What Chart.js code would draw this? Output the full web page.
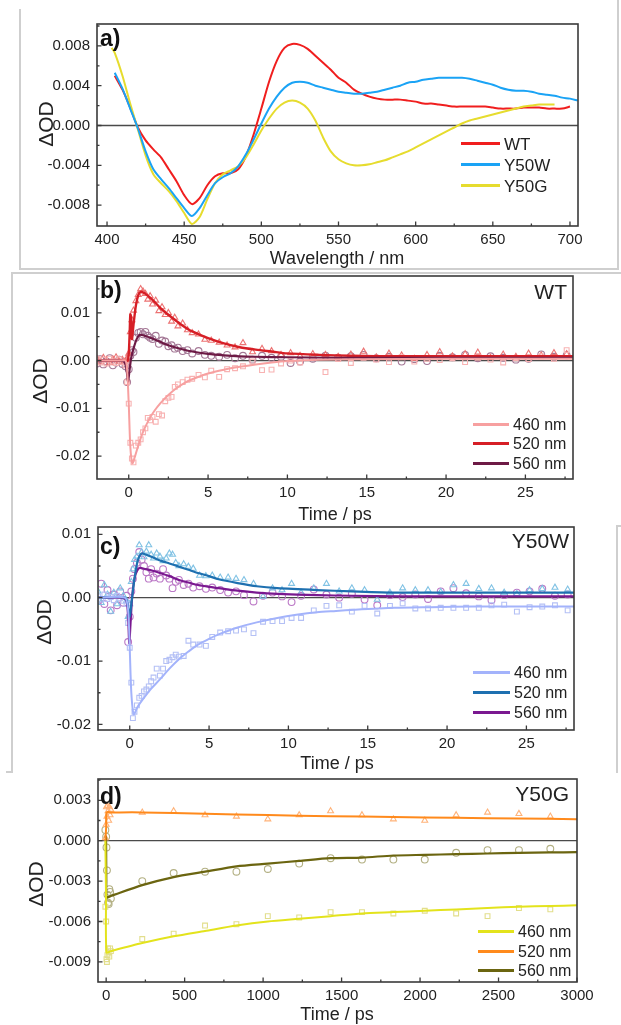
<!DOCTYPE html>
<html><head><meta charset="utf-8">
<script src="https://cdn.jsdelivr.net/npm/chart.js@4.4.1/dist/chart.umd.min.js"></script>
<style>
html,body{margin:0;padding:0;background:#fff;}
body{width:621px;height:1025px;position:relative;overflow:hidden;font-family:"Liberation Sans",Arial,sans-serif;color:#222;}
canvas{position:absolute;left:0;}
.t{position:absolute;white-space:nowrap;line-height:1;z-index:5;}
.c{transform:translate(-50%,-50%);}
.r{transform:translate(-100%,-50%);}
.l{transform:translate(0,-50%);}
.lab{font-weight:bold;font-size:23px;color:#111;}
.name{font-size:21px;}
.leg{font-size:16px;}
.legA{font-size:17px;}
.ax{font-size:18px;}
.od{font-size:21px;transform:translate(-50%,-50%) rotate(-90deg);}
.ln{position:absolute;height:3px;z-index:5;}
.fr{position:absolute;background:#cfcfcf;}
</style></head>
<body>
<canvas id="pa" width="621" height="248" style="top:8px"></canvas>
<canvas id="pb" width="621" height="249" style="top:260px"></canvas>
<canvas id="pc" width="621" height="249" style="top:511px"></canvas>
<canvas id="pd" width="621" height="249" style="top:763px"></canvas>

<!-- frames -->
<div class="fr" style="left:19px;top:9px;width:1.5px;height:261px"></div>
<div class="fr" style="left:19px;top:268px;width:600px;height:1.5px"></div>
<div class="fr" style="left:617px;top:0px;width:1.5px;height:270px"></div>
<div class="fr" style="left:11px;top:272px;width:610px;height:1.5px"></div>
<div class="fr" style="left:11px;top:272px;width:1.5px;height:501px"></div>
<div class="fr" style="left:6px;top:771px;width:6px;height:1.5px"></div>
<div class="fr" style="left:616px;top:525px;width:1.5px;height:248px"></div>
<div class="fr" style="left:616px;top:525px;width:5px;height:1.5px"></div>

<!-- panel a texts -->
<div class="t lab l" style="left:100px;top:38px">a)</div>
<div class="t od" style="left:45px;top:124px">ΔOD</div>
<div class="t ax c" style="left:337px;top:258px">Wavelength / nm</div>
<div class="ln" style="left:461px;top:142px;width:39px;background:#f01e1e"></div>
<div class="t legA l" style="left:504px;top:144px">WT</div>
<div class="ln" style="left:461px;top:163px;width:39px;background:#1aa3f5"></div>
<div class="t legA l" style="left:504px;top:165px">Y50W</div>
<div class="ln" style="left:461px;top:184px;width:39px;background:#e6dc2e"></div>
<div class="t legA l" style="left:504px;top:186px">Y50G</div>

<!-- panel b texts -->
<div class="t lab l" style="left:100px;top:290px">b)</div>
<div class="t name r" style="left:567px;top:291px">WT</div>
<div class="t od" style="left:39px;top:381px">ΔOD</div>
<div class="t ax c" style="left:335px;top:514px">Time / ps</div>
<div class="ln" style="left:473px;top:423px;width:36px;background:#f7a0a0"></div>
<div class="t leg l" style="left:513px;top:425px">460 nm</div>
<div class="ln" style="left:473px;top:442px;width:36px;background:#d61f26"></div>
<div class="t leg l" style="left:513px;top:444px">520 nm</div>
<div class="ln" style="left:473px;top:462px;width:36px;background:#6d1a45"></div>
<div class="t leg l" style="left:513px;top:464px">560 nm</div>

<!-- panel c texts -->
<div class="t lab l" style="left:100px;top:546px">c)</div>
<div class="t name r" style="left:569px;top:540px">Y50W</div>
<div class="t od" style="left:43px;top:622px">ΔOD</div>
<div class="t ax c" style="left:337px;top:763px">Time / ps</div>
<div class="ln" style="left:473px;top:671px;width:37px;background:#a3b3fb"></div>
<div class="t leg l" style="left:514px;top:673px">460 nm</div>
<div class="ln" style="left:473px;top:691px;width:37px;background:#1e70b0"></div>
<div class="t leg l" style="left:514px;top:693px">520 nm</div>
<div class="ln" style="left:473px;top:711px;width:37px;background:#7a1890"></div>
<div class="t leg l" style="left:514px;top:713px">560 nm</div>

<!-- panel d texts -->
<div class="t lab l" style="left:100px;top:796px">d)</div>
<div class="t name r" style="left:569px;top:793px">Y50G</div>
<div class="t od" style="left:35px;top:884px">ΔOD</div>
<div class="t ax c" style="left:337px;top:1014px">Time / ps</div>
<div class="ln" style="left:478px;top:930px;width:36px;background:#e3e31c"></div>
<div class="t leg l" style="left:518px;top:932px">460 nm</div>
<div class="ln" style="left:478px;top:950px;width:36px;background:#ff8a1c"></div>
<div class="t leg l" style="left:518px;top:952px">520 nm</div>
<div class="ln" style="left:478px;top:969px;width:36px;background:#6b6510"></div>
<div class="t leg l" style="left:518px;top:971px">560 nm</div>

<script>
// ---------- Panel a: transient spectra ----------
const wavelengths = [403,405,410,415,420,425,430,435,440,445,450,455,460,465,470,475,480,485,490,495,500,505,510,515,520,525,530,535,540,545,550,555,560,565,570,575,580,585,590,595,600,605,610,615,620,625,630,635,640,645,650,655,660,665,670,675,680,685,690,695,700,705];
const spectrumWT = [null,0.0050,0.0036,0.0018,-0.0002,-0.0015,-0.0024,-0.0032,-0.0044,-0.0056,-0.0070,-0.0079,-0.0073,-0.0060,-0.0051,-0.0048,-0.0048,-0.0044,-0.0031,-0.0009,0.0017,0.0044,0.0065,0.0078,0.0082,0.0081,0.0077,0.0070,0.0063,0.0056,0.0048,0.0043,0.0036,0.0032,0.0029,0.0027,0.0026,0.0026,0.0026,0.0025,0.0024,0.0022,0.0022,0.0021,0.0020,0.0019,0.0019,0.0019,0.0019,0.0019,0.0018,0.0017,0.0017,0.0017,0.0018,0.0018,0.0018,0.0017,0.0017,0.0017,0.0019,null];
const spectrumY50W = [null,0.0053,0.0037,0.0017,-0.0003,-0.0026,-0.0044,-0.0054,-0.0063,-0.0073,-0.0083,-0.0091,-0.0083,-0.0070,-0.0058,-0.0052,-0.0048,-0.0041,-0.0029,-0.0014,0.0002,0.0017,0.0029,0.0038,0.0043,0.0044,0.0043,0.0040,0.0038,0.0036,0.0034,0.0033,0.0032,0.0032,0.0033,0.0034,0.0036,0.0038,0.0040,0.0043,0.0044,0.0046,0.0047,0.0048,0.0048,0.0048,0.0048,0.0047,0.0045,0.0043,0.0041,0.0038,0.0036,0.0035,0.0035,0.0034,0.0032,0.0031,0.0030,0.0028,0.0027,0.0025];
const spectrumY50G = [0.0078,0.0073,0.0050,0.0022,-0.0004,-0.0030,-0.0049,-0.0058,-0.0066,-0.0076,-0.0088,-0.0099,-0.0092,-0.0074,-0.0058,-0.0049,-0.0045,-0.0041,-0.0032,-0.0019,-0.0005,0.0007,0.0017,0.0023,0.0025,0.0023,0.0017,0.0005,-0.0012,-0.0026,-0.0034,-0.0038,-0.0040,-0.0040,-0.0039,-0.0037,-0.0035,-0.0032,-0.0029,-0.0026,-0.0022,-0.0018,-0.0014,-0.0010,-0.0006,-0.0002,0.0002,0.0005,0.0007,0.0009,0.0011,0.0013,0.0015,0.0017,0.0019,0.0020,0.0021,0.0021,0.0021,null,null,null];
const wlTicks = [400,450,500,550,600,650,700];
const wlTickLabels = ['400','450','500','550','600','650','700'];
const odTicksA = [-0.008,-0.004,0,0.004,0.008];
const odTickLabelsA = ['-0.008','-0.004','0.000','0.004','0.008'];

// ---------- Panels b & c: delay times (ps) of measured points ----------
const delayTimes = [-2.0,-1.8,-1.6,-1.4,-1.2,-1.0,-0.8,-0.6,-0.4,-0.2,-0.1,0.0,0.1,0.2,0.3,0.45,0.6,0.75,0.9,1.05,1.2,1.35,1.5,1.7,1.9,2.1,2.3,2.5,2.7,2.9,3.1,3.4,3.7,4.0,4.4,4.8,5.2,5.7,6.2,6.7,7.2,7.8,8.4,9.0,9.6,10.2,10.8,11.6,12.4,13.2,14.0,14.8,15.6,16.4,17.2,18.0,18.8,19.6,20.4,21.2,22.0,22.8,23.6,24.4,25.2,26.0,26.8,27.6];

// Panel b (WT) measured
const wt460 = [0.0003,-0.0004,0.0002,-0.0006,0.0004,-0.0002,-0.0005,0.0003,-0.0003,-0.0010,-0.0045,-0.0090,-0.0172,-0.0205,-0.0213,-0.0178,-0.0172,-0.0165,-0.0150,-0.0142,-0.0120,-0.0125,-0.0118,-0.0128,-0.0112,-0.0115,-0.0085,-0.0078,-0.0076,-0.0055,-0.0050,-0.0045,-0.0040,-0.0038,-0.0030,-0.0035,-0.0021,-0.0034,-0.0018,-0.0016,-0.0012,-0.0002,-0.0020,-0.0019,-0.0006,0.0000,-0.0004,0.0008,-0.0024,0.0003,-0.0005,0.0006,0.0002,-0.0003,0.0007,-0.0002,0.0004,0.0001,0.0005,-0.0003,0.0006,0.0002,-0.0004,0.0005,0.0003,0.0009,0.0004,0.0022];
const wt520 = [0.0004,-0.0003,0.0006,0.0001,-0.0005,0.0003,0.0007,-0.0002,0.0002,0.0000,0.0003,0.0015,0.0060,0.0085,0.0105,0.0125,0.0138,0.0150,0.0145,0.0140,0.0128,0.0135,0.0118,0.0126,0.0104,0.0112,0.0096,0.0100,0.0082,0.0090,0.0072,0.0078,0.0064,0.0058,0.0055,0.0044,0.0042,0.0038,0.0032,0.0028,0.0037,0.0018,0.0025,0.0020,0.0012,0.0016,0.0010,0.0014,0.0012,0.0008,0.0013,0.0019,0.0007,0.0015,0.0011,0.0004,0.0012,0.0018,0.0009,0.0014,0.0017,0.0006,0.0013,0.0008,0.0015,0.0011,0.0016,0.0014];
const wt560 = [-0.0006,0.0003,-0.0008,-0.0002,0.0005,-0.0010,-0.0004,0.0002,-0.0007,-0.0012,-0.0045,-0.0018,0.0010,0.0022,0.0018,0.0048,0.0058,0.0060,0.0055,0.0060,0.0052,0.0048,0.0045,0.0052,0.0035,0.0042,0.0040,0.0030,0.0032,0.0025,0.0027,0.0020,0.0022,0.0015,0.0020,0.0012,0.0010,0.0008,0.0012,0.0005,0.0010,0.0002,0.0010,0.0006,0.0008,-0.0005,-0.0002,0.0004,0.0010,0.0006,0.0009,0.0012,0.0005,0.0008,-0.0002,0.0003,-0.0001,0.0010,0.0007,0.0012,0.0005,0.0009,0.0006,0.0002,0.0004,0.0013,0.0008,0.0011];
// Panel b fits
const wt460FitT = [-2,-0.5,-0.2,-0.1,0,0.1,0.23,0.4,0.6,0.8,1.0,1.3,1.6,2.0,2.5,3.0,3.5,4.0,5.0,6.0,7.0,8.0,9.0,10.0,12.0,15.0,20.0,28.0];
const wt460Fit = [0,0,0,-0.002,-0.009,-0.018,-0.0215,-0.0200,-0.0178,-0.0158,-0.0142,-0.0122,-0.0106,-0.0089,-0.0072,-0.0058,-0.0047,-0.0039,-0.0027,-0.0019,-0.0013,-0.0008,-0.0004,-0.0001,0.0002,0.0003,0.0004,0.0004];
const wt520FitT = [-2,-1,-0.3,-0.05,0.05,0.1,0.15,0.2,0.3,0.45,0.6,0.75,1.0,1.5,2.0,2.5,3.0,3.5,4.0,5.0,6.0,7.0,8.0,9.0,10.0,12.0,14.0,17.0,20.0,24.0,28.0];
const wt520Fit = [0,0,0,0,0.0050,0.0097,0.0090,0.0045,0.0075,0.0115,0.0137,0.0144,0.0141,0.0127,0.0110,0.0096,0.0083,0.0071,0.0061,0.0047,0.0036,0.0028,0.0023,0.0019,0.0015,0.0012,0.0010,0.0009,0.0009,0.0009,0.0009];
const wt560FitT = [-2,-0.6,-0.3,-0.15,-0.05,0.05,0.15,0.3,0.5,0.7,1.0,1.5,2.0,2.5,3.0,4.0,5.0,6.0,7.0,8.0,10.0,13.0,16.0,20.0,24.0,28.0];
const wt560Fit = [0,0,-0.0002,-0.0015,-0.0044,-0.0020,0.0005,0.0025,0.0045,0.0054,0.0052,0.0046,0.0039,0.0032,0.0027,0.0019,0.0014,0.0011,0.0009,0.0008,0.0007,0.0006,0.0006,0.0006,0.0006,0.0006];

// Panel c (Y50W) measured
const w460 = [0.0002,-0.0003,0.0005,-0.0002,0.0001,-0.0004,0.0003,-0.0001,-0.0005,-0.0010,-0.0040,-0.0079,-0.0134,-0.0190,-0.0180,-0.0170,-0.0158,-0.0155,-0.0148,-0.0145,-0.0140,-0.0132,-0.0126,-0.0112,-0.0123,-0.0112,-0.0100,-0.0098,-0.0094,-0.0090,-0.0093,-0.0092,-0.0068,-0.0074,-0.0074,-0.0076,-0.0062,-0.0055,-0.0053,-0.0052,-0.0050,-0.0056,-0.0038,-0.0037,-0.0037,-0.0032,-0.0032,-0.0020,-0.0013,-0.0012,-0.0022,-0.0013,-0.0025,-0.0013,-0.0009,-0.0017,-0.0017,-0.0016,-0.0016,-0.0016,-0.0016,-0.0012,-0.0011,-0.0022,-0.0015,-0.0014,-0.0012,-0.0020];
const w520 = [0.0010,-0.0008,0.0020,0.0005,-0.0022,0.0008,-0.0010,0.0015,0.0003,-0.0005,-0.0030,-0.0010,0.0025,0.0045,0.0060,0.0065,0.0083,0.0072,0.0064,0.0073,0.0083,0.0068,0.0062,0.0070,0.0065,0.0058,0.0062,0.0070,0.0068,0.0055,0.0050,0.0053,0.0049,0.0046,0.0035,0.0034,0.0035,0.0032,0.0032,0.0030,0.0028,0.0022,0.0002,0.0015,0.0012,0.0022,0.0008,0.0015,0.0022,0.0010,0.0015,0.0012,-0.0003,0.0008,0.0015,0.0012,0.0012,0.0009,0.0020,0.0022,0.0014,0.0015,0.0008,0.0006,0.0012,0.0014,0.0016,0.0013];
const w560 = [-0.0005,0.0022,-0.0010,0.0012,-0.0020,0.0005,-0.0012,0.0010,-0.0008,0.0003,-0.0070,-0.0030,0.0010,0.0030,0.0045,0.0055,0.0072,0.0060,0.0050,0.0040,0.0030,0.0045,0.0032,0.0038,0.0030,0.0045,0.0035,0.0030,0.0015,0.0025,0.0028,0.0020,0.0022,0.0016,0.0018,0.0014,0.0016,0.0012,0.0008,0.0010,0.0004,-0.0006,0.0003,0.0008,0.0002,-0.0007,0.0003,0.0013,0.0005,0.0000,0.0006,-0.0003,-0.0012,0.0004,0.0001,0.0005,-0.0002,0.0010,0.0015,0.0007,0.0002,-0.0004,0.0004,0.0008,0.0010,0.0014,0.0003,0.0005];
// Panel c fits
const w460FitT = [-2,-0.3,-0.1,0,0.1,0.25,0.5,0.9,1.3,1.9,2.5,3.1,3.7,4.3,5.0,5.6,6.8,8.0,9.3,10.5,11.8,13.0,14.2,16.7,19.0,21.7,25.0,28.0];
const w460Fit = [0,0,-0.002,-0.008,-0.0150,-0.0184,-0.0172,-0.0158,-0.0145,-0.0129,-0.0112,-0.0097,-0.0085,-0.0074,-0.0065,-0.0058,-0.0047,-0.0039,-0.0032,-0.0027,-0.0023,-0.0021,-0.0019,-0.0016,-0.0015,-0.0014,-0.0014,-0.0014];
const w520FitT = [-2,-0.3,-0.1,0,0.1,0.3,0.5,0.75,1.0,1.5,2.0,2.5,3.1,3.7,4.3,5.0,5.6,6.8,8.0,9.3,11.8,14.0,16.7,20.0,24.0,28.0];
const w520Fit = [0,0,-0.0015,-0.0030,-0.0010,0.0030,0.0058,0.0070,0.0068,0.0063,0.0058,0.0054,0.0049,0.0044,0.0039,0.0034,0.0029,0.0023,0.0018,0.0015,0.0012,0.0010,0.0008,0.0008,0.0008,0.0008];
const w560FitT = [-2,-0.4,-0.2,-0.1,-0.03,0.05,0.15,0.3,0.45,0.62,1.0,1.5,1.9,2.5,3.1,3.7,4.3,5.0,5.6,6.8,8.0,9.3,11.8,14.0,17.0,21.0,28.0];
const w560Fit = [0,0,-0.0005,-0.0030,-0.0072,-0.0040,0.0000,0.0030,0.0042,0.0047,0.0045,0.0042,0.0039,0.0034,0.0028,0.0024,0.0020,0.0017,0.0015,0.0011,0.0008,0.0006,0.0004,0.0003,0.0002,0.0002,0.0002];

const psTicks = [0,5,10,15,20,25];
const psTickLabels = ['0','5','10','15','20','25'];
const odTicksBC = [-0.02,-0.01,0,0.01];
const odTickLabelsBC = ['-0.02','-0.01','0.00','0.01'];

// ---------- Panel d (Y50G), long delays ----------
const longTimes = [-5,0,2,5,8,12,16,20,25,30,230,430,630,830,1030,1230,1430,1630,1830,2030,2230,2430,2630,2830];
const g460 = [-0.0049,-0.0060,-0.0088,-0.0090,-0.0085,-0.0080,-0.0083,-0.0086,-0.0080,-0.0082,-0.0073,-0.0069,-0.0063,-0.0062,-0.0056,-0.0057,-0.0053,-0.0053,-0.0054,-0.0052,-0.0054,-0.0056,-0.0050,-0.0051];
const g520 = [0.0002,0.0012,0.0025,0.0018,0.0026,0.0022,0.0015,0.0025,0.0019,0.0023,0.0021,0.0022,0.0019,0.0018,0.0016,0.0019,0.0022,0.0019,0.0016,0.0015,0.0019,0.0021,0.0020,0.0018];
const g560 = [0.0008,0.0003,-0.0005,-0.0022,-0.0040,-0.0046,-0.0047,-0.0036,-0.0038,-0.0043,-0.0030,-0.0024,-0.0023,-0.0023,-0.0021,-0.0017,-0.0013,-0.0014,-0.0014,-0.0014,-0.0009,-0.0007,-0.0007,-0.0006];
const g460FitT = [-5,-1,2,30,230,430,630,830,1030,1230,1430,1630,1830,2030,2230,2430,2630,2830,3000];
const g460Fit = [0,-0.0040,-0.0083,-0.0082,-0.0076,-0.0071,-0.0067,-0.0063,-0.0060,-0.0058,-0.0056,-0.0054,-0.0053,-0.0052,-0.0051,-0.0050,-0.0049,-0.00485,-0.0048];
const g520FitT = [-5,0,3,30,230,630,1030,1430,1830,2230,2630,3000];
const g520Fit = [0,0.0010,0.0021,0.0021,0.0021,0.0020,0.0019,0.00182,0.00176,0.0017,0.00165,0.0016];
const g560FitT = [-5,-1,1,3,30,230,430,630,830,1030,1230,1430,1630,1830,2030,2230,2430,2630,2830,3000];
const g560Fit = [0.0002,0.0003,-0.0030,-0.0042,-0.0041,-0.0033,-0.0027,-0.0023,-0.0019,-0.0017,-0.0015,-0.0013,-0.00125,-0.0011,-0.00105,-0.0010,-0.00095,-0.0009,-0.00087,-0.00085];
const longTicks = [0,500,1000,1500,2000,2500,3000];
const longTickLabels = ['0','500','1000','1500','2000','2500','3000'];
const odTicksD = [-0.009,-0.006,-0.003,0,0.003];
const odTickLabelsD = ['-0.009','-0.006','-0.003','0.000','0.003'];

// ---------- helpers ----------
Chart.defaults.font.family = '"Liberation Sans", Arial, sans-serif';
Chart.defaults.color = '#222';

function pts(xs, ys){ const o=[]; xs.forEach((x,i)=>{ if(ys[i]!==null && ys[i]!==undefined) o.push({x:x,y:ys[i]}); }); return o; }
function fit(xs, ys, color, w){ return {data:pts(xs,ys), showLine:true, borderColor:color, borderWidth:w||2, pointRadius:0, tension:0.25, order:0}; }
function marks(xs, ys, color, style){ return {data:pts(xs,ys), showLine:false, pointStyle:style, pointRadius:3.4, pointBorderWidth:1.1, pointBorderColor:color, pointBackgroundColor:'rgba(255,255,255,0)', order:1}; }

const originBox = {
  id:'originBox',
  beforeDatasetsDraw(chart){
    const {ctx, chartArea:a, scales:{y}} = chart;
    const py = y.getPixelForValue(0);
    ctx.save(); ctx.strokeStyle='#4a4a4a'; ctx.lineWidth=1.3;
    ctx.beginPath(); ctx.moveTo(a.left,py); ctx.lineTo(a.right,py); ctx.stroke(); ctx.restore();
  },
  afterDraw(chart){
    const {ctx, chartArea:a, scales:{x,y}} = chart;
    ctx.save();
    ctx.strokeStyle='#3a3a3a'; ctx.lineWidth=1.6;
    ctx.strokeRect(a.left,a.top,a.right-a.left,a.bottom-a.top);
    ctx.lineWidth=1.3;
    ctx.beginPath();
    const xv = x.ticks.map(t=>t.value), yv = y.ticks.map(t=>t.value);
    const sx = xv[1]-xv[0], sy = yv[1]-yv[0];
    const drawX=(v,len)=>{const p=x.getPixelForValue(v); if(p<a.left+1||p>a.right+0.5) return; ctx.moveTo(p,a.bottom); ctx.lineTo(p,a.bottom-len);};
    const drawY=(v,len)=>{const p=y.getPixelForValue(v); if(p<a.top-0.5||p>a.bottom-1) return; ctx.moveTo(a.left,p); ctx.lineTo(a.left+len,p);};
    xv.forEach(v=>drawX(v,4.5));
    for(let v=xv[0]-sx/2; v<=x.max; v+=sx) drawX(v,2.5);
    yv.forEach(v=>drawY(v,4.5));
    for(let v=yv[0]-sy/2; v<=y.max; v+=sy) drawY(v,2.5);
    ctx.stroke();
    ctx.restore();
  }
};

function makeChart(id, datasets, xr, yr, xt, xl, yt, yl, yW, rightPad){
  return new Chart(document.getElementById(id), {
    type:'scatter',
    data:{datasets:datasets},
    plugins:[originBox],
    options:{
      responsive:false, animation:false, devicePixelRatio:1,
      layout:{padding:{top:15,right:rightPad,left:0,bottom:0}},
      plugins:{legend:{display:false}, tooltip:{enabled:false}},
      scales:{
        x:{type:'linear', min:xr[0], max:xr[1],
           grid:{display:false, drawTicks:false}, border:{display:false},
           afterBuildTicks:s=>{ s.ticks = xt.map(v=>({value:v})); },
           afterFit:s=>{ s.height = 30; },
           ticks:{autoSkip:false, maxRotation:0, padding:5, font:{size:15}, color:'#222', callback:(v,i)=>xl[i]}},
        y:{type:'linear', min:yr[0], max:yr[1],
           grid:{display:false, drawTicks:false}, border:{display:false},
           afterBuildTicks:s=>{ s.ticks = yt.map(v=>({value:v})); },
           afterFit:s=>{ s.width = yW; },
           ticks:{autoSkip:false, padding:7, font:{size:15}, color:'#222', callback:(v,i)=>yl[i]}}
      }
    }
  });
}

// Panel a
makeChart('pa', [
  fit(wavelengths, spectrumY50W, '#1aa3f5', 2),
  fit(wavelengths, spectrumY50G, '#e6dc2e', 2),
  fit(wavelengths, spectrumWT, '#f01e1e', 2)
], [393.5,705.2], [-0.0101,0.0102], wlTicks, wlTickLabels, odTicksA, odTickLabelsA, 97, 43);

// Panel b
makeChart('pb', [
  fit(wt460FitT, wt460Fit, '#f7a0a0', 2),
  fit(wt560FitT, wt560Fit, '#6d1a45', 2.2),
  fit(wt520FitT, wt520Fit, '#d61f26', 2.4),
  marks(delayTimes, wt460, '#f8b2b2', 'rect'),
  marks(delayTimes, wt520, '#ec7272', 'triangle'),
  marks(delayTimes, wt560, '#a47896', 'circle')
], [-2,28], [-0.02479,0.01771], psTicks, psTickLabels, odTicksBC, odTickLabelsBC, 97, 48);

// Panel c
makeChart('pc', [
  fit(w460FitT, w460Fit, '#a3b3fb', 2),
  fit(w520FitT, w520Fit, '#1e70b0', 2.2),
  fit(w560FitT, w560Fit, '#7a1890', 2.2),
  marks(delayTimes, w460, '#b4c0f5', 'rect'),
  marks(delayTimes, w520, '#80c2e4', 'triangle'),
  marks(delayTimes, w560, '#bb78c6', 'circle')
], [-2,28], [-0.02088,0.01115], psTicks, psTickLabels, odTicksBC, odTickLabelsBC, 98, 47);

// Panel d
makeChart('pd', [
  fit(g460FitT, g460Fit, '#e3e31c', 2),
  fit(g520FitT, g520Fit, '#ff8a1c', 2),
  fit(g560FitT, g560Fit, '#6b6510', 2.2),
  marks(longTimes, g460, '#e2de8c', 'rect'),
  marks(longTimes, g520, '#ffb37a', 'triangle'),
  marks(longTimes, g560, '#b3b083', 'circle')
], [-52,3000], [-0.01049,0.00458], longTicks, longTickLabels, odTicksD, odTickLabelsD, 98, 44);
</script>
</body></html>
